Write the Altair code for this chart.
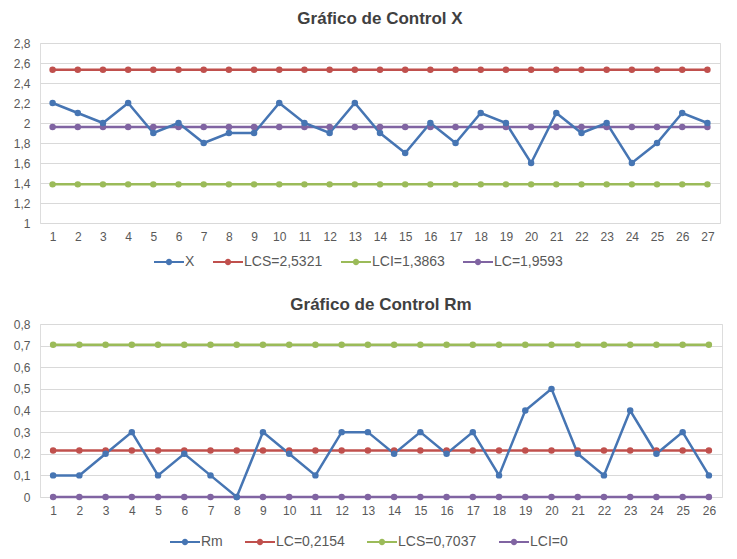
import altair as alt
import pandas as pd

# ---- data ----
idx_x = list(range(1, 28))
x_vals = [2.2, 2.1, 2.0, 2.2, 1.9, 2.0, 1.8, 1.9, 1.9, 2.2, 2.0, 1.9, 2.2, 1.9,
          1.7, 2.0, 1.8, 2.1, 2.0, 1.6, 2.1, 1.9, 2.0, 1.6, 1.8, 2.1, 2.0]
x_series = ["X", "LCS=2,5321", "LCI=1,3863", "LC=1,9593"]
x_limits = [2.5321, 1.3863, 1.9593]
x_ticks = [1, 1.2, 1.4, 1.6, 1.8, 2, 2.2, 2.4, 2.6, 2.8]

idx_r = list(range(1, 27))
rm_vals = [0.1, 0.1, 0.2, 0.3, 0.1, 0.2, 0.1, 0.0, 0.3, 0.2, 0.1, 0.3, 0.3,
           0.2, 0.3, 0.2, 0.3, 0.1, 0.4, 0.5, 0.2, 0.1, 0.4, 0.2, 0.3, 0.1]
rm_series = ["Rm", "LC=0,2154", "LCS=0,7037", "LCI=0"]
rm_limits = [0.2154, 0.7037, 0.0]
rm_ticks = [0, 0.1, 0.2, 0.3, 0.4, 0.5, 0.6, 0.7, 0.8]

BLUE, RED, GREEN, PURPLE = "#4675B3", "#C0504D", "#9BBB59", "#8064A2"
colors = [BLUE, RED, GREEN, PURPLE]

FONT = "Liberation Sans"
GRAY = "#595959"
SYMBOL = ("M-1,-0.07H1V0.07H-1Z "
          "M0.21,0A0.21,0.21 0 1,1 -0.21,0A0.21,0.21 0 1,1 0.21,0Z")


def make_df(idx, vals, series, limits):
    rows = []
    for lim, name in zip(limits, series[1:]):
        for i in idx:
            rows.append({"i": i, "v": lim, "s": name})
    for i, v in zip(idx, vals):
        rows.append({"i": i, "v": v, "s": series[0]})
    return pd.DataFrame(rows)


def panel(idx, vals, series, limits, ticks, title, w, h, lx, ly, toff, cpad):
    df = make_df(idx, vals, series, limits)
    color = alt.Color(
        "s:N",
        scale=alt.Scale(domain=series, range=colors),
        legend=alt.Legend(
            orient="none", legendX=lx, legendY=ly,
            direction="horizontal", title=None,
            symbolType=SYMBOL, symbolSize=900, symbolStrokeWidth=0,
            labelFontSize=14, labelColor=GRAY, labelFont=FONT,
            columnPadding=cpad, labelOffset=1,
        ),
        sort=series,
    )
    x = alt.X("i:O", title=None,
              axis=alt.Axis(labelAngle=0, ticks=False, domain=False, grid=False,
                            labelFontSize=12, labelColor=GRAY, labelFont=FONT,
                            labelPadding=8))
    y = alt.Y("v:Q", title=None,
              scale=alt.Scale(domain=[ticks[0], ticks[-1]], nice=False),
              axis=alt.Axis(values=ticks, grid=True, gridColor="#D9D9D9",
                            domain=False, ticks=False, labelFontSize=12,
                            labelColor=GRAY, labelFont=FONT, minExtent=31,
                            labelPadding=10,
                            labelExpr="replace(format(datum.value, '~g'), '.', ',')"))
    base = alt.Chart(df).encode(x=x, y=y, color=color, order=alt.Order("i:Q"))
    lines = base.mark_line(strokeWidth=2.5)
    pts = base.mark_circle(size=42, opacity=1)
    return alt.layer(lines, pts).properties(
        width=w, height=h,
        title=alt.TitleParams(title, fontSize=17, fontWeight="bold",
                              color="#404040", font=FONT, offset=toff),
    )


top = panel(idx_x, x_vals, x_series, x_limits, x_ticks,
            "Gráfico de Control X", 680, 180, 114, 204, 9, 18)
bottom = panel(idx_r, rm_vals, rm_series, rm_limits, rm_ticks,
               "Gráfico de Control Rm", 682, 173, 130, 203, 4, 22)

chart = alt.vconcat(top, bottom, spacing=25).resolve_scale(
    color="independent", x="independent", y="independent"
).configure_view(stroke=None).configure(
    padding={"top": 1, "left": 0, "right": 0, "bottom": 0}, background="white")

chart.save("out.html", embed_options={"renderer": "svg", "actions": False})
